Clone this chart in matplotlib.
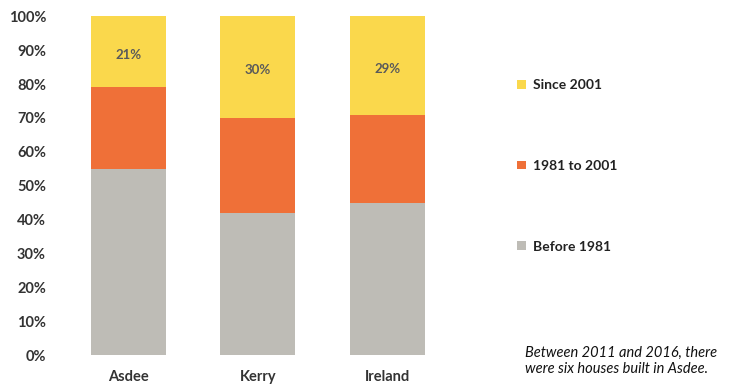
import matplotlib.pyplot as plt
import numpy as np

plt.rcParams['font.family'] = ['Lato', 'DejaVu Sans']

# Share of housing stock by year built
areas = ['Asdee', 'Kerry', 'Ireland']
before_1981 = [55, 42, 45]
from_1981_to_2001 = [24, 28, 26]
since_2001 = [21, 30, 29]
series_names = ['Before 1981', '1981 to 2001', 'Since 2001']
colors = ['#bebcb6', '#ef7038', '#fad84c']
note = 'Between 2011 and 2016, there\nwere six houses built in Asdee.'

fig = plt.figure(figsize=(7.37, 3.88), dpi=100)
ax = fig.add_axes([0.087, 0.085, 0.526, 0.873])

x = np.arange(len(areas))
bottom = np.zeros(len(areas))
bars = []
for vals, name, c in zip([before_1981, from_1981_to_2001, since_2001], series_names, colors):
    b = ax.bar(x, vals, width=0.58, bottom=bottom, color=c, label=name, linewidth=0)
    bars.append(b)
    bottom += np.array(vals)

# labels on the top segment only
for xi, b0, v in zip(x, np.array(before_1981) + np.array(from_1981_to_2001), since_2001):
    ax.text(xi, b0 + v / 2 - 1, f'{v}%', ha='center', va='center',
            fontsize=9.5, fontweight='bold', color='#5a5a5a')

ax.set_xlim(-0.5, 2.5)
ax.set_ylim(0, 100)
ax.set_yticks(np.arange(0, 101, 10))
ax.set_yticklabels([f'{t}%' for t in range(0, 101, 10)], fontsize=10.5,
                   fontweight='bold', color='#333333')
ax.set_xticks(x)
ax.set_xticklabels(areas, fontsize=10.5, fontweight='bold', color='#333333')
ax.tick_params(length=0)
ax.tick_params(axis='y', pad=13)
ax.tick_params(axis='x', pad=11)
for s in ax.spines.values():
    s.set_visible(False)

handles = [bars[2], bars[1], bars[0]]
labels = [series_names[2], series_names[1], series_names[0]]
fig.legend(handles, labels, loc='upper left', bbox_to_anchor=(0.685, 0.828),
           frameon=False, labelspacing=4.95, handlelength=0.6,
           handleheight=0.6, handletextpad=0.5, labelcolor='#222222',
           prop={'weight': 'bold', 'size': 10})

fig.text(0.713, 0.07, note, fontsize=10.5, style='italic', color='#111111',
         ha='left', va='center', linespacing=1.25)

fig.savefig('out.png', dpi=100)
